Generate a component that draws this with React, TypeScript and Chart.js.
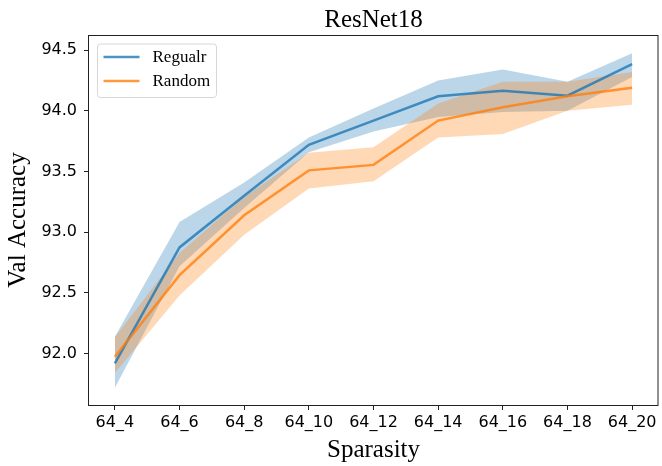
import React, { useEffect, useRef } from "react";
import { Chart, registerables } from "chart.js";

Chart.register(...registerables);

const categories = ["64_4", "64_6", "64_8", "64_10", "64_12", "64_14", "64_16", "64_18", "64_20"];
const regularMean = [91.92, 92.875, 93.3, 93.72, 93.92, 94.12, 94.165, 94.125, 94.385];
const regularUpper = [92.14, 93.085, 93.41, 93.78, 94.02, 94.25, 94.34, 94.24, 94.475];
const regularLower = [91.72, 92.72, 93.2, 93.66, 93.83, 93.95, 93.99, 94.0, 94.28];
const randomMean = [91.975, 92.647, 93.14, 93.51, 93.555, 93.92, 94.03, 94.12, 94.19];
const randomUpper = [92.135, 92.83, 93.29, 93.655, 93.7, 94.06, 94.24, 94.24, 94.32];
const randomLower = [91.84, 92.48, 92.98, 93.36, 93.42, 93.78, 93.81, 94.0, 94.05];
const yTickValues = [92.0, 92.5, 93.0, 93.5, 94.0, 94.5];

const seriesNames = ["Regualr", "Random"];
const titleText = "ResNet18";
const xLabel = "Sparasity";
const yLabel = "Val Accuracy";

const BLUE = "rgba(31,119,180,0.8)";
const BLUE_FILL = "rgba(31,119,180,0.3)";
const ORANGE = "rgba(255,127,14,0.8)";
const ORANGE_FILL = "rgba(255,127,14,0.3)";
const SERIF = "'Liberation Serif', 'Times New Roman', serif";
const SANS = "'DejaVu Sans', sans-serif";
const LINE_W = 2.5;

const pts = (arr: number[]) => arr.map((v, i) => ({ x: i, y: v }));

const decorPlugin = {
  id: "decor",
  afterDraw(chart: any) {
    const { ctx, chartArea } = chart;
    const { left, right, top, bottom } = chartArea;
    ctx.save();
    // frame
    ctx.strokeStyle = "#222";
    ctx.lineWidth = 1;
    ctx.strokeRect(Math.round(left) - 0.5, Math.round(top) + 0.5, Math.round(right - left) + 0.5, Math.round(bottom - top));
    // title
    ctx.fillStyle = "#000";
    ctx.font = `25px ${SERIF}`;
    ctx.textAlign = "center";
    ctx.textBaseline = "alphabetic";
    ctx.fillText(titleText, (left + right) / 2, 26.5);
    // legend
    const lx = left + 8.5;
    const ly = top + 9;
    const lw = 119;
    const lh = 53.5;
    ctx.beginPath();
    const r = 3;
    ctx.moveTo(lx + r, ly);
    ctx.lineTo(lx + lw - r, ly);
    ctx.quadraticCurveTo(lx + lw, ly, lx + lw, ly + r);
    ctx.lineTo(lx + lw, ly + lh - r);
    ctx.quadraticCurveTo(lx + lw, ly + lh, lx + lw - r, ly + lh);
    ctx.lineTo(lx + r, ly + lh);
    ctx.quadraticCurveTo(lx, ly + lh, lx, ly + lh - r);
    ctx.lineTo(lx, ly + r);
    ctx.quadraticCurveTo(lx, ly, lx + r, ly);
    ctx.closePath();
    ctx.fillStyle = "rgba(255,255,255,0.8)";
    ctx.fill();
    ctx.strokeStyle = "#d6d6d6";
    ctx.lineWidth = 1;
    ctx.stroke();
    const colors = [BLUE, ORANGE];
    seriesNames.forEach((name, i) => {
      const yy = ly + 13 + i * 24;
      ctx.strokeStyle = colors[i];
      ctx.lineWidth = LINE_W;
      ctx.beginPath();
      ctx.moveTo(lx + 6, yy);
      ctx.lineTo(lx + 42, yy);
      ctx.stroke();
      ctx.fillStyle = "#000";
      ctx.font = `17px ${SERIF}`;
      ctx.textAlign = "left";
      ctx.textBaseline = "middle";
      ctx.fillText(name, lx + 55, yy + 1);
    });
    ctx.restore();
  },
};

export default function App() {
  const ref = useRef<HTMLCanvasElement | null>(null);
  useEffect(() => {
    if (!ref.current) return;
    const band = (data: number[], color: string, order: number, fill: any) => ({
      data: pts(data),
      borderWidth: 0,
      borderColor: "rgba(0,0,0,0)",
      backgroundColor: color,
      pointRadius: 0,
      fill,
      order,
      tension: 0,
    });
    const chart = new Chart(ref.current, {
      type: "line",
      data: {
        datasets: [
          band(regularUpper, BLUE_FILL, 6, "+1"),
          band(regularLower, BLUE_FILL, 6, false),
          {
            label: seriesNames[0],
            data: pts(regularMean),
            borderColor: BLUE,
            borderWidth: LINE_W,
            pointRadius: 0,
            fill: false,
            order: 2,
          },
          band(randomUpper, ORANGE_FILL, 4, "+1"),
          band(randomLower, ORANGE_FILL, 4, false),
          {
            label: seriesNames[1],
            data: pts(randomMean),
            borderColor: ORANGE,
            borderWidth: LINE_W,
            pointRadius: 0,
            fill: false,
            order: 1,
          },
        ] as any,
      },
      options: {
        animation: false,
        responsive: false,
        layout: { padding: { left: 0, top: 35, right: 4, bottom: 0 } },
        plugins: {
          legend: { display: false },
          tooltip: { enabled: false },
          title: { display: false },
        },
        scales: {
          x: {
            type: "linear",
            min: -0.4,
            max: 8.4,
            afterFit: (s: any) => {
              s.height = 61;
            },
            afterBuildTicks: (s: any) => {
              s.ticks = categories.map((_, i) => ({ value: i }));
            },
            ticks: {
              autoSkip: false,
              maxRotation: 0,
              color: "#000",
              font: { family: SANS, size: 16 },
              padding: 3,
              callback: (v: any) => categories[Math.round(v)] ?? "",
            },
            grid: { drawOnChartArea: false, drawTicks: true, tickLength: 5, tickColor: "#222", tickWidth: 1 },
            border: { display: false },
            title: {
              display: true,
              text: xLabel,
              color: "#000",
              font: { family: SERIF, size: 25 },
              padding: { top: 0, bottom: 1 },
            },
          },
          y: {
            type: "linear",
            min: 91.577,
            max: 94.625,
            afterFit: (s: any) => {
              s.width = 89;
            },
            afterBuildTicks: (s: any) => {
              s.ticks = yTickValues.map((v) => ({ value: v }));
            },
            ticks: {
              color: "#000",
              font: { family: SANS, size: 16 },
              padding: 7,
              callback: (v: any) => Number(v).toFixed(1),
            },
            grid: { drawOnChartArea: false, drawTicks: true, tickLength: 5, tickColor: "#222", tickWidth: 1 },
            border: { display: false },
            title: {
              display: true,
              text: yLabel,
              color: "#000",
              font: { family: SERIF, size: 25 },
              padding: { top: 3, bottom: 0 },
            },
          },
        },
      } as any,
      plugins: [decorPlugin],
    });
    return () => chart.destroy();
  }, []);
  return (
    <div style={{ position: "absolute", left: 0, top: 0, width: 662, height: 466, background: "#fff" }}>
      <canvas ref={ref} width={662} height={466} style={{ display: "block" }} />
    </div>
  );
}
